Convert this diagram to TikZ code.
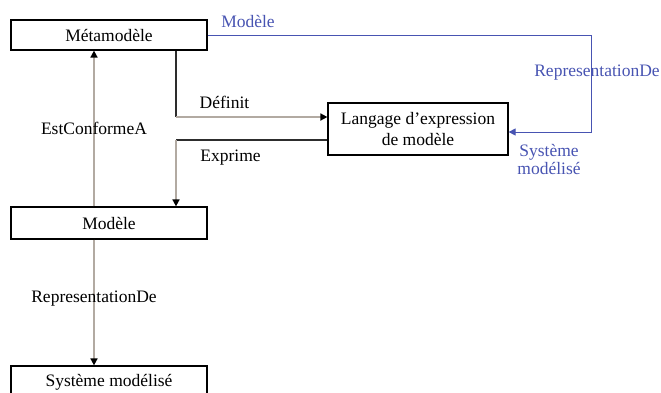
\documentclass[tikz,border=0pt]{standalone}
\usepackage{fontspec}
\setmainfont{Liberation Serif}
\definecolor{linkgray}{RGB}{178,170,162}
\definecolor{darkline}{RGB}{45,45,45}
\definecolor{relblue}{RGB}{72,84,178}
\usetikzlibrary{arrows.meta, calc}

\begin{document}
\begin{tikzpicture}[x=1pt, y=-1pt,
    every node/.style={font=\fontsize{17.5}{21}\selectfont, text=black},
    box/.style={draw, line width=1.2pt, minimum width=196pt, inner sep=0pt, align=center},
    link/.style={line width=1.6pt, linkgray},
    darklink/.style={line width=1.2pt, darkline},
    bluelink/.style={line width=1pt, relblue},
    tip/.style={-{Triangle[length=7pt, width=7pt, color=black]}}]
        \useasboundingbox (0,0) rectangle (661,392);
        \clip (0,0) rectangle (661,392);

        % Boxes
        \node[box, minimum height=30pt] (meta) at (109,35) {Métamodèle};
        \node[box, minimum height=32pt] (modele) at (109,223) {Modèle};
        \node[box, minimum height=32pt] (systeme) at (109,382) {Système modélisé};
        \node[box, minimum width=180pt, minimum height=52pt] (langage) at (418,129)
            {Langage d’expression\\de modèle};

        % Left column
        \draw[link, tip] ([xshift=-15pt]modele.north) -- node[pos=0.5] {EstConformeA} ([xshift=-15pt]meta.south);
        \draw[link, tip] ([xshift=-15pt]modele.south) -- node[pos=0.47] {RepresentationDe} ([xshift=-15pt]systeme.north);

        % Définit / Exprime
        \coordinate (defc) at (176,117);
        \coordinate (expc) at (176,140);
        \draw[darklink] ([xshift=67pt]meta.south) -- (defc);
        \draw[link, tip] (defc) -- node[pos=0.32, above=4pt] {Définit} (langage.west |- defc);
        \draw[darklink] (langage.west |- expc) -- node[pos=0.64, below=6pt] {Exprime} (expc);
        \draw[link, tip] (expc) -- ([xshift=67pt]modele.north);

        % Blue relation
        \coordinate (blc) at (591,132);
        \draw[bluelink, -{Triangle[length=7pt, width=7pt]}] (meta.east) -| (blc) -- (langage.east |- blc);
        \node[text=relblue] (lmod) at (248,21) {Modèle};
        \node[text=relblue] (lrep) at (597,73) {RepresentationDe};
        \node[text=relblue, align=center, font=\fontsize{17.5}{18}\selectfont] (lsys) at (549,159) {Système\\modélisé};
      \end{tikzpicture}
\end{document}
